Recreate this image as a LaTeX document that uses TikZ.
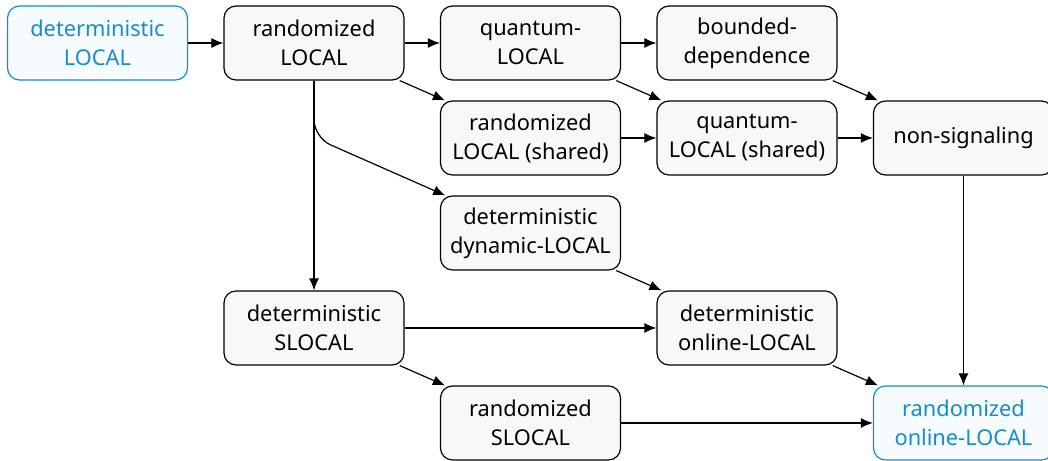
\documentclass[tikz,border=0pt]{standalone}
\usepackage{fontspec}
\setmainfont{Noto Sans}
\usetikzlibrary{positioning,arrows.meta}

\definecolor{modelblue}{RGB}{22,141,205}
\definecolor{modelfill}{RGB}{248,248,248}
\definecolor{bluefill}{RGB}{246,251,254}

\begin{document}
\begin{tikzpicture}[
        node distance=0.495cm and 0.8825cm,
        font=\fontsize{15.5}{20.6}\selectfont,
        box/.style={
            rectangle,
            rounded corners=0.3cm,
            draw=black,
            line width=0.85pt,
            fill=modelfill,
            minimum width=4.5cm,
            minimum height=1.85cm,
            align=center,
        },
        known/.style={
            draw=modelblue,
            fill=bluefill,
            text=modelblue,
        },
        link/.style={
            -{Latex[length=0.3cm,width=0.25cm]},
            line width=0.85pt,
        },
    ]
        \useasboundingbox (0,0) rectangle (26.2,-11.525);

        \node [box, known] (detL) at (2.4375,-1.075) {deterministic\\LOCAL};
        \node [box, right=of detL] (randL) {randomized\\LOCAL};
        \node [box, right=of randL] (quantL) {quantum-\\LOCAL};
        \node [box, right=of quantL] (bounded) {bounded-\\dependence};

        \node [box, below=of quantL] (randSh) {randomized\\LOCAL (shared)};
        \node [box, right=of randSh] (quantSh) {quantum-\\LOCAL (shared)};
        \node [box, right=of quantSh] (nonsig) {non-signaling};

        \node [box, below=of randSh] (detDyn) {deterministic\\dynamic-LOCAL};
        \node [box, below left=of detDyn] (detSL) {deterministic\\SLOCAL};
        \node [box, below right=of detDyn] (detOn) {deterministic\\online-LOCAL};

        \node [box, below right=of detSL] (randSL) {randomized\\SLOCAL};
        \node [box, known, below right=of detOn] (randOn) {randomized\\online-LOCAL};

        \coordinate (bend) at ([yshift=-1.425cm]randL.south);

        \draw [link] (detL) -- (randL);
        \draw [link] (randL) -- (quantL);
        \draw [link] (quantL) -- (bounded);
        \draw [link] (randL) -- (randSh);
        \draw [link] (quantL) -- (quantSh);
        \draw [link] (bounded) -- (nonsig);
        \draw [link] (randSh) -- (quantSh);
        \draw [link] (quantSh) -- (nonsig);
        \draw [link] (randL) -- (detSL);
        \draw [link, rounded corners=0.45cm] (randL.south) -- (bend) -- (detDyn);
        \draw [link] (detDyn) -- (detOn);
        \draw [link] (detSL) -- (detOn);
        \draw [link] (detSL) -- (randSL);
        \draw [link] (detOn) -- (randOn);
        \draw [link] (randSL) -- (randOn);
        \draw [link] (nonsig) -- (randOn);
\end{tikzpicture}
\end{document}
